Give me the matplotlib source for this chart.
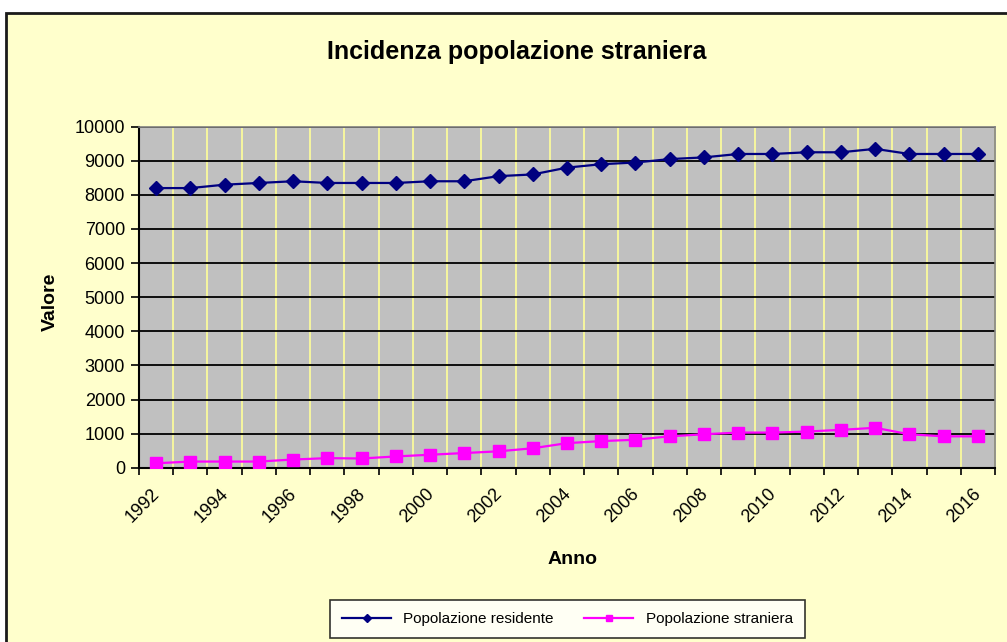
import numpy as np
import matplotlib
matplotlib.use("Agg")
import matplotlib.pyplot as plt
from matplotlib.patches import Rectangle
from matplotlib.transforms import ScaledTranslation

plt.rcParams['font.family'] = ['Liberation Sans', 'DejaVu Sans']

# ==========================================
# Dati
# ==========================================
anni = list(range(1992, 2017))
popolazione_residente = [8200, 8200, 8300, 8350, 8400, 8350, 8350, 8350, 8400, 8400,
                         8550, 8600, 8800, 8900, 8950, 9050, 9100, 9200, 9200, 9250,
                         9250, 9350, 9200, 9200, 9200]
popolazione_straniera = [130, 180, 180, 180, 240, 280, 270, 330, 380, 430,
                         480, 570, 720, 780, 820, 920, 980, 1030, 1030, 1060,
                         1110, 1170, 980, 920, 920]

W, H = 1007, 642
fig = plt.figure(figsize=(W / 100, H / 100), dpi=100, facecolor='white')

# cornice gialla del grafico (tagliata a destra e in basso)
cornice = Rectangle((6 / W, -0.1), 1.2, 1 - 12.5 / H + 0.1,
                    transform=fig.transFigure, facecolor='#FFFFCC',
                    edgecolor='#1a1a1a', linewidth=2, zorder=-10)
fig.add_artist(cornice)

ax = fig.add_axes([139 / W, 1 - 467.7 / H, (995 - 139) / W, (467.7 - 126.7) / H])
ax.set_zorder(2)
ax.set_facecolor('#C0C0C0')

x = np.arange(len(anni))
ax.plot(x, popolazione_residente, color='#000080', marker='D', markersize=7,
        linewidth=1.6, label='Popolazione residente', zorder=3)
ax.plot(x, popolazione_straniera, color='#FF00FF', marker='s', markersize=8,
        linewidth=1.6, label='Popolazione straniera', zorder=3)

ax.set_xlim(-0.5, len(anni) - 0.5)
ax.set_ylim(0, 10000)
ax.set_yticks(range(0, 10001, 1000))
ax.tick_params(axis='y', direction='out', length=6, width=1.2, labelsize=13, pad=4)

# etichette ogni due anni al centro della categoria
ax.set_xticks(x[::2])
ax.set_xticklabels([str(a) for a in anni[::2]], rotation=45, ha='right',
                   va='top', rotation_mode='anchor', fontsize=13)
ax.tick_params(axis='x', which='major', length=0, pad=13)
spost = ScaledTranslation(-5 / 100, 0, fig.dpi_scale_trans)
for lab in ax.get_xticklabels():
    lab.set_transform(lab.get_transform() + spost)
ax.set_xticks(np.arange(-0.5, len(anni)), minor=True)
ax.tick_params(axis='x', which='minor', direction='out', length=5, width=1.2)

# griglia: orizzontale nera, verticale gialla
ax.grid(axis='y', color='black', linewidth=1.3, zorder=1)
ax.grid(axis='x', which='minor', color='#FFFF99', linewidth=1.2, zorder=1)
ax.set_axisbelow(True)

for s in ['left', 'bottom']:
    ax.spines[s].set_color('black')
    ax.spines[s].set_linewidth(1.5)
for s in ['top', 'right']:
    ax.spines[s].set_color('#808080')
    ax.spines[s].set_linewidth(1.2)

fig.text(517 / W, 1 - 52 / H, 'Incidenza popolazione straniera', ha='center',
         va='center', fontsize=18, fontweight='bold')
fig.text(50 / W, 1 - 302 / H, 'Valore', ha='center', va='center', rotation=90,
         fontsize=14, fontweight='bold')
fig.text(573 / W, 1 - 560 / H, 'Anno', ha='center', va='center',
         fontsize=14, fontweight='bold')

leg = fig.legend(loc='center', bbox_to_anchor=(567.5 / W, 1 - 619 / H), ncol=2,
                 fontsize=11, frameon=True, fancybox=False, edgecolor='black',
                 handlelength=3.2, columnspacing=2.0, markerscale=0.6,
                 borderpad=0.8)
leg.get_frame().set_linewidth(1.2)
leg.get_frame().set_facecolor('white')

fig.savefig('out.png', dpi=100, facecolor='white')
